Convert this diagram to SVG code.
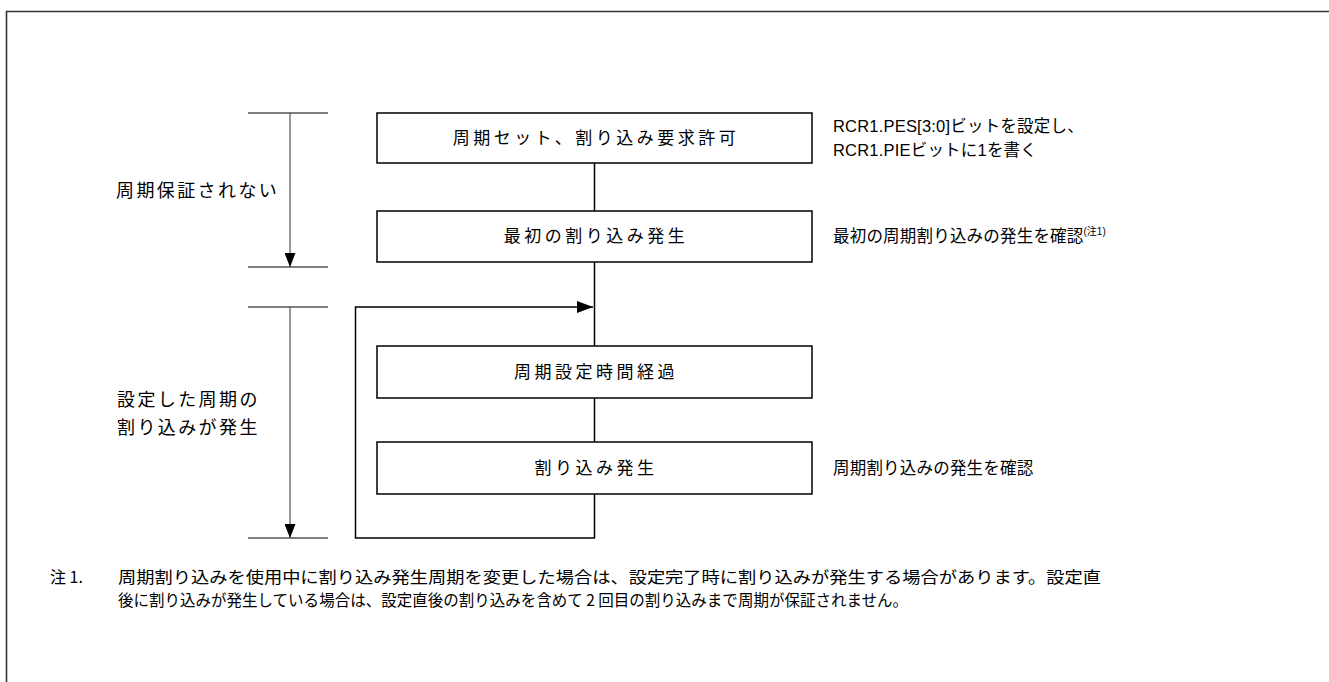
<svg xmlns="http://www.w3.org/2000/svg" width="1329" height="682" viewBox="0 0 1329 682">
<defs>
<style>
text{font-family:"Liberation Sans","Noto Sans CJK JP",sans-serif;fill:#000}
.box{fill:#fff;stroke:#000;stroke-width:1.5}
.bt{font-size:17px;letter-spacing:3.5px;text-anchor:middle}
.ann{font-size:16.5px;letter-spacing:0.2px}
.lbl{font-size:18px;letter-spacing:2.4px}
.note{font-size:16px;font-family:"Noto Sans CJK JP",sans-serif}
.conn{fill:none;stroke:#000;stroke-width:1.5}
.tick{stroke:#000;stroke-width:1}
.span{stroke:#555;stroke-width:1.2}
</style>
<marker id="ah" viewBox="0 0 11 14" refX="5.5" refY="14" markerWidth="11" markerHeight="14" markerUnits="userSpaceOnUse" orient="0">
<path d="M0,0 L11,0 L5.5,14 Z" fill="#000"/>
</marker>
<marker id="ah2" viewBox="0 0 16 12" refX="16" refY="6" markerWidth="16" markerHeight="12" markerUnits="userSpaceOnUse" orient="auto">
<path d="M0,0 L16,6 L0,12 Z" fill="#000"/>
</marker>
</defs>
<rect width="1329" height="682" fill="#fff"/>
<path d="M6.5,682 V11.5 H1329" fill="none" stroke="#333" stroke-width="1.6"/>

<g id="span1">
<line class="tick" x1="248" y1="113" x2="328" y2="113"/>
<line class="tick" x1="248" y1="267" x2="328" y2="267"/>
<line class="span" x1="290" y1="113" x2="290" y2="267" marker-end="url(#ah)"/>
<text class="lbl" x="116" y="197">周期保証されない</text>
</g>
<g id="span2">
<line class="tick" x1="248" y1="307" x2="328" y2="307"/>
<line class="tick" x1="248" y1="538" x2="328" y2="538"/>
<line class="span" x1="290" y1="307" x2="290" y2="538" marker-end="url(#ah)"/>
<text class="lbl" x="117" y="406">設定した周期の</text>
<text class="lbl" x="117" y="434">割り込みが発生</text>
</g>

<g id="connectors">
<line class="conn" x1="594.5" y1="163" x2="594.5" y2="211"/>
<line class="conn" x1="594.5" y1="262" x2="594.5" y2="346"/>
<line class="conn" x1="594.5" y1="398" x2="594.5" y2="442"/>
<path class="conn" d="M594.5,494 V538 H355.5 V307 H593" marker-end="url(#ah2)"/>
</g>

<g id="n1">
<rect class="box" x="377" y="113" width="435" height="50"/>
<text class="bt" x="596" y="144">周期セット、割り込み要求許可</text>
</g>
<g id="n2">
<rect class="box" x="377" y="211" width="435" height="51"/>
<text class="bt" x="596" y="242">最初の割り込み発生</text>
</g>
<g id="n3">
<rect class="box" x="377" y="346" width="435" height="52"/>
<text class="bt" x="596" y="378">周期設定時間経過</text>
</g>
<g id="n4">
<rect class="box" x="377" y="442" width="435" height="52"/>
<text class="bt" x="596" y="474">割り込み発生</text>
</g>

<g id="annotations">
<text class="ann" x="833" y="132">RCR1.PES[3:0]ビットを設定し、</text>
<text class="ann" x="833" y="156">RCR1.PIEビットに1を書く</text>
<text class="ann" x="833" y="242">最初の周期割り込みの発生を確認<tspan font-size="10" letter-spacing="0" dy="-7">(注1)</tspan></text>
<text class="ann" x="833" y="474">周期割り込みの発生を確認</text>
</g>

<g id="note">
<text class="note" x="50" y="583">注 1.</text>
<text class="note" x="118" y="583" textLength="983" lengthAdjust="spacingAndGlyphs">周期割り込みを使用中に割り込み発生周期を変更した場合は、設定完了時に割り込みが発生する場合があります。設定直</text>
<text class="note" x="118" y="606" textLength="790" lengthAdjust="spacingAndGlyphs">後に割り込みが発生している場合は、設定直後の割り込みを含めて 2 回目の割り込みまで周期が保証されません。</text>
</g>
</svg>
